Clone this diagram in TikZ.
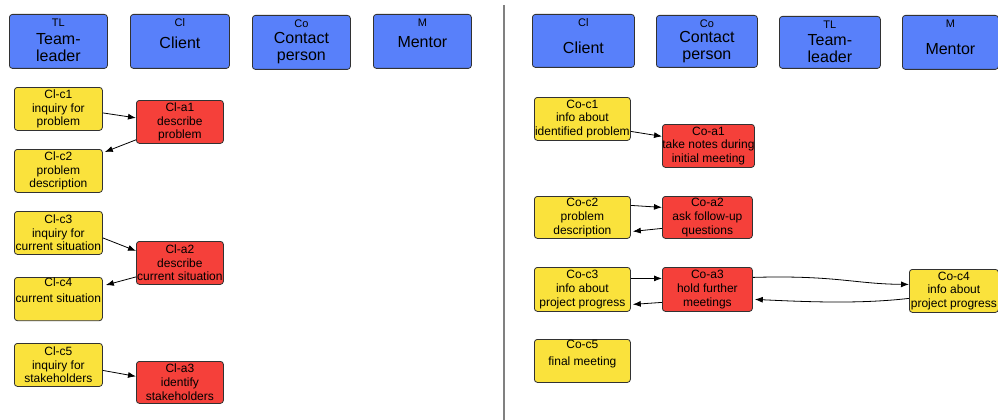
\documentclass[tikz,border=0pt]{standalone}
\usepackage{fontspec}
\setmainfont{Liberation Sans}
\usetikzlibrary{arrows.meta}
\definecolor{hdrblue}{RGB}{88,128,250}
\definecolor{cyel}{RGB}{250,226,60}
\definecolor{ared}{RGB}{245,64,58}
\definecolor{edgegray}{RGB}{50,50,50}
\tikzset{
 box/.style={draw=edgegray, line width=0.8pt, rounded corners=3pt, anchor=north west, inner sep=0pt, align=center},
 hdr/.style={box, fill=hdrblue, minimum height=54pt},
 cbox/.style={box, fill=cyel, minimum height=43pt, font=\fontsize{12}{13.8}\selectfont},
 abox/.style={box, fill=ared, minimum height=43pt, font=\fontsize{12}{13.8}\selectfont},
 lbl/.style={font=\fontsize{11}{12}\selectfont, inner sep=0pt},
 mainlbl/.style={font=\fontsize{16}{17}\selectfont, inner sep=0pt, align=center},
 arr/.style={-{Latex[length=8pt,width=6pt]}, line width=0.8pt, draw=black}
}
\begin{document}
\begin{tikzpicture}[x=1pt,y=-1pt]
\useasboundingbox (0,0) rectangle (998,420);
% divider
\draw[gray, line width=1.5pt] (504,5) -- (504,420);
% ---------- left headers
\node[hdr, minimum width=98pt] (ltl) at (9,14) {};
\node[hdr, minimum width=99pt] (lcl) at (130,14) {};
\node[hdr, minimum width=98pt] (lco) at (252,15) {};
\node[hdr, minimum width=98pt] (lm)  at (373,14) {};
\foreach \n/\l in {ltl/TL, lcl/Cl, lco/Co, lm/M}{
  \node[lbl] (\n-lab) at ([yshift=-9pt]\n.north) {\l};
}
\node[mainlbl] (ltl-t) at ([yshift=-6pt]ltl.center) {Team-\\leader};
\node[mainlbl] (lcl-t) at ([yshift=-1pt]lcl.center) {Client};
\node[mainlbl] (lco-t) at ([yshift=-6pt]lco.center) {Contact\\person};
\node[mainlbl] (lm-t)  at ([yshift=-1pt]lm.center) {Mentor};
% ---------- right headers
\node[hdr, minimum width=102pt, minimum height=53pt] (rcl) at (532,14) {};
\node[hdr, minimum width=101pt, minimum height=52pt] (rco) at (656,15) {};
\node[hdr, minimum width=101pt, minimum height=52pt] (rtl) at (779,16) {};
\node[hdr, minimum width=96pt, minimum height=54pt] (rm)  at (902,15) {};
\foreach \n/\l in {rcl/Cl, rco/Co, rtl/TL, rm/M}{
  \node[lbl] (\n-lab) at ([yshift=-9pt]\n.north) {\l};
}
\node[mainlbl] (rcl-t) at ([yshift=-7pt]rcl.center) {Client};
\node[mainlbl] (rco-t) at ([yshift=-6pt]rco.center) {Contact\\person};
\node[mainlbl] (rtl-t) at ([yshift=-6pt]rtl.center) {Team-\\leader};
\node[mainlbl] (rm-t)  at ([yshift=-7pt]rm.center) {Mentor};
% ---------- left cards
\node[cbox, minimum width=88pt] (clc1) at (14,87)  {Cl-c1\\inquiry for\\problem};
\node[abox, minimum width=87pt] (cla1) at (136,100) {Cl-a1\\describe\\problem};
\node[cbox, minimum width=88pt] (clc2) at (14,149) {Cl-c2\\problem\\description};
\node[cbox, minimum width=88pt] (clc3) at (14,211) {Cl-c3\\inquiry for\\current situation};
\node[abox, minimum width=87pt] (cla2) at (136,241) {Cl-a2\\describe\\current situation};
\node[cbox, minimum width=88pt, minimum height=42pt] (clc4) at (14,277) {Cl-c4\\[3pt]current situation\\[4pt]};
\node[cbox, minimum width=88pt] (clc5) at (14,343) {Cl-c5\\inquiry for\\stakeholders};
\node[abox, minimum width=87pt, minimum height=42pt] (cla3) at (136,361) {Cl-a3\\identify\\stakeholders};
% ---------- right cards
\node[cbox, minimum width=96pt] (coc1) at (534,97)  {Co-c1\\info about\\identified problem};
\node[abox, minimum width=90pt] (coa1) at (662,124) {Co-a1\\take notes during\\initial meeting};
\node[cbox, minimum width=96pt, minimum height=42pt] (coc2) at (534,196) {Co-c2\\problem\\description};
\node[abox, minimum width=90pt, minimum height=42pt] (coa2) at (662,196) {Co-a2\\ask follow-up\\questions};
\node[cbox, minimum width=96pt, minimum height=44pt] (coc3) at (534,267) {Co-c3\\info about\\project progress};
\node[abox, minimum width=90pt, minimum height=44pt] (coa3) at (662,267) {Co-a3\\hold further\\meetings};
\node[cbox, minimum width=89pt] (coc4) at (909,269) {Co-c4\\info about\\project progress};
\node[cbox, minimum width=96pt] (coc5) at (534,339) {Co-c5\\[3pt]final meeting\\[3pt]};
% ---------- arrows left
\draw[arr] ([yshift=-4pt]clc1.east) -- ([yshift=4pt]cla1.west);
\draw[arr] ([yshift=4pt]cla1.south west) -- ([xshift=2pt,yshift=-3pt]clc2.north east);
\draw[arr] ([yshift=-5pt]clc3.east) -- ([yshift=12pt]cla2.west);
\draw[arr] ([yshift=-14pt]cla2.west) -- ([xshift=3pt,yshift=14pt]clc4.east);
\draw[arr] ([yshift=-5.5pt]clc5.east) -- ([yshift=6pt]cla3.west);
% ---------- arrows right
\draw[arr] ([yshift=-12.5pt]coc1.east) -- ([yshift=9.5pt]coa1.west);
\draw[arr] ([yshift=12pt]coc2.east) -- ([yshift=10pt]coa2.west);
\draw[arr] ([yshift=-11pt]coa2.west) -- ([xshift=2pt,yshift=-14pt]coc2.east);
\draw[arr] ([yshift=11pt]coc3.east) -- ([yshift=11pt]coa3.west);
\draw[arr] ([yshift=-13pt]coa3.west) -- ([xshift=2pt,yshift=-15pt]coc3.east);
\draw[arr] ([yshift=12pt]coa3.east) .. controls (835,275) and (855,284) .. ([yshift=6.5pt]coc4.west);
\draw[arr] ([yshift=-7.5pt]coc4.west) .. controls (860,304) and (810,302) .. ([xshift=2pt,yshift=-10pt]coa3.east);
\end{tikzpicture}
\end{document}
